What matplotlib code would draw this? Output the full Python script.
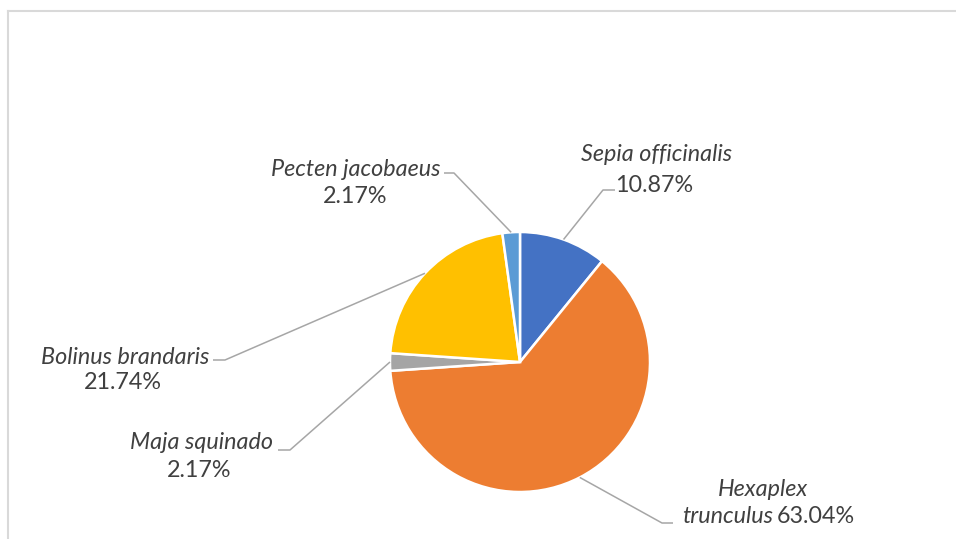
import matplotlib
matplotlib.use("Agg")
import matplotlib.pyplot as plt
import numpy as np

W, H = 956, 539

species = ["Sepia officinalis", "Hexaplex trunculus", "Maja squinado",
           "Bolinus brandaris", "Pecten jacobaeus"]
percents = [10.87, 63.04, 2.17, 21.74, 2.17]
colors = ["#4472C4", "#ED7D31", "#A5A5A5", "#FFC000", "#5B9BD5"]

# label layout (pixel coords, y down)
layout = {
    "Sepia officinalis": dict(name_xy=(657, 161), pct_xy=(654, 192), elbow=(603, 190), anchor=(615, 190)),
    "Pecten jacobaeus": dict(name_xy=(356, 176), pct_xy=(355, 203), elbow=(454, 173), anchor=(444, 173)),
    "Bolinus brandaris": dict(name_xy=(125, 364), pct_xy=(123, 389), elbow=(225, 360), anchor=(213, 360)),
    "Maja squinado": dict(name_xy=(202, 449), pct_xy=(199, 477), elbow=(290, 450), anchor=(278, 450)),
    "Hexaplex trunculus": dict(name_xy=(763, 496), pct_xy=(777, 523), elbow=(662, 523), anchor=(673, 523)),
}

TEXT = "#404040"
LINE = "#A6A6A6"
FONT = ["Lato", "DejaVu Sans"]
FS = 16.8


def Y(py):
    return H - py


fig = plt.figure(figsize=(W / 100, H / 100), dpi=100)
ax = fig.add_axes([0, 0, 1, 1])

cx, cy, R = 520, 362, 130
wedges, _ = ax.pie(percents, colors=colors, startangle=90, counterclock=False,
                   center=(cx, Y(cy)), radius=R,
                   wedgeprops=dict(edgecolor="white", linewidth=1.8))
ax.set_xlim(0, W)
ax.set_ylim(0, H)
ax.set_aspect("auto")
ax.axis("off")

for w, name, pct in zip(wedges, species, percents):
    L = layout[name]
    mid = np.deg2rad((w.theta1 + w.theta2) / 2)
    px = cx + R * np.cos(mid)
    py = Y(cy) + R * np.sin(mid)
    ex, ey = L["elbow"]
    axx, ayy = L["anchor"]
    ax.plot([px, ex, axx], [py, Y(ey), Y(ayy)], color=LINE, lw=1.1,
            solid_capstyle="butt", zorder=1)
    ptxt = f"{pct:.2f}%"
    nx, ny = L["name_xy"]
    qx, qy = L["pct_xy"]
    if name == "Hexaplex trunculus":
        ax.text(nx, Y(ny), "Hexaplex", ha="center", va="baseline", style="italic",
                color=TEXT, fontsize=FS, family=FONT)
        ax.text(qx - 4, Y(qy), "trunculus", ha="right", va="baseline", style="italic",
                color=TEXT, fontsize=FS, family=FONT)
        ax.text(qx, Y(qy), ptxt, ha="left", va="baseline",
                color=TEXT, fontsize=FS, family=FONT)
    else:
        ax.text(nx, Y(ny), name, ha="center", va="baseline", style="italic",
                color=TEXT, fontsize=FS, family=FONT)
        ax.text(qx, Y(qy), ptxt, ha="center", va="baseline",
                color=TEXT, fontsize=FS, family=FONT)

# chart frame (partially visible)
ax.plot([8.5, 8.5], [Y(539), Y(10.5)], color="#D9D9D9", lw=1.5)
ax.plot([8.5, W], [Y(10.5), Y(10.5)], color="#D9D9D9", lw=1.5)

fig.savefig("out.png", dpi=100, facecolor="white")
